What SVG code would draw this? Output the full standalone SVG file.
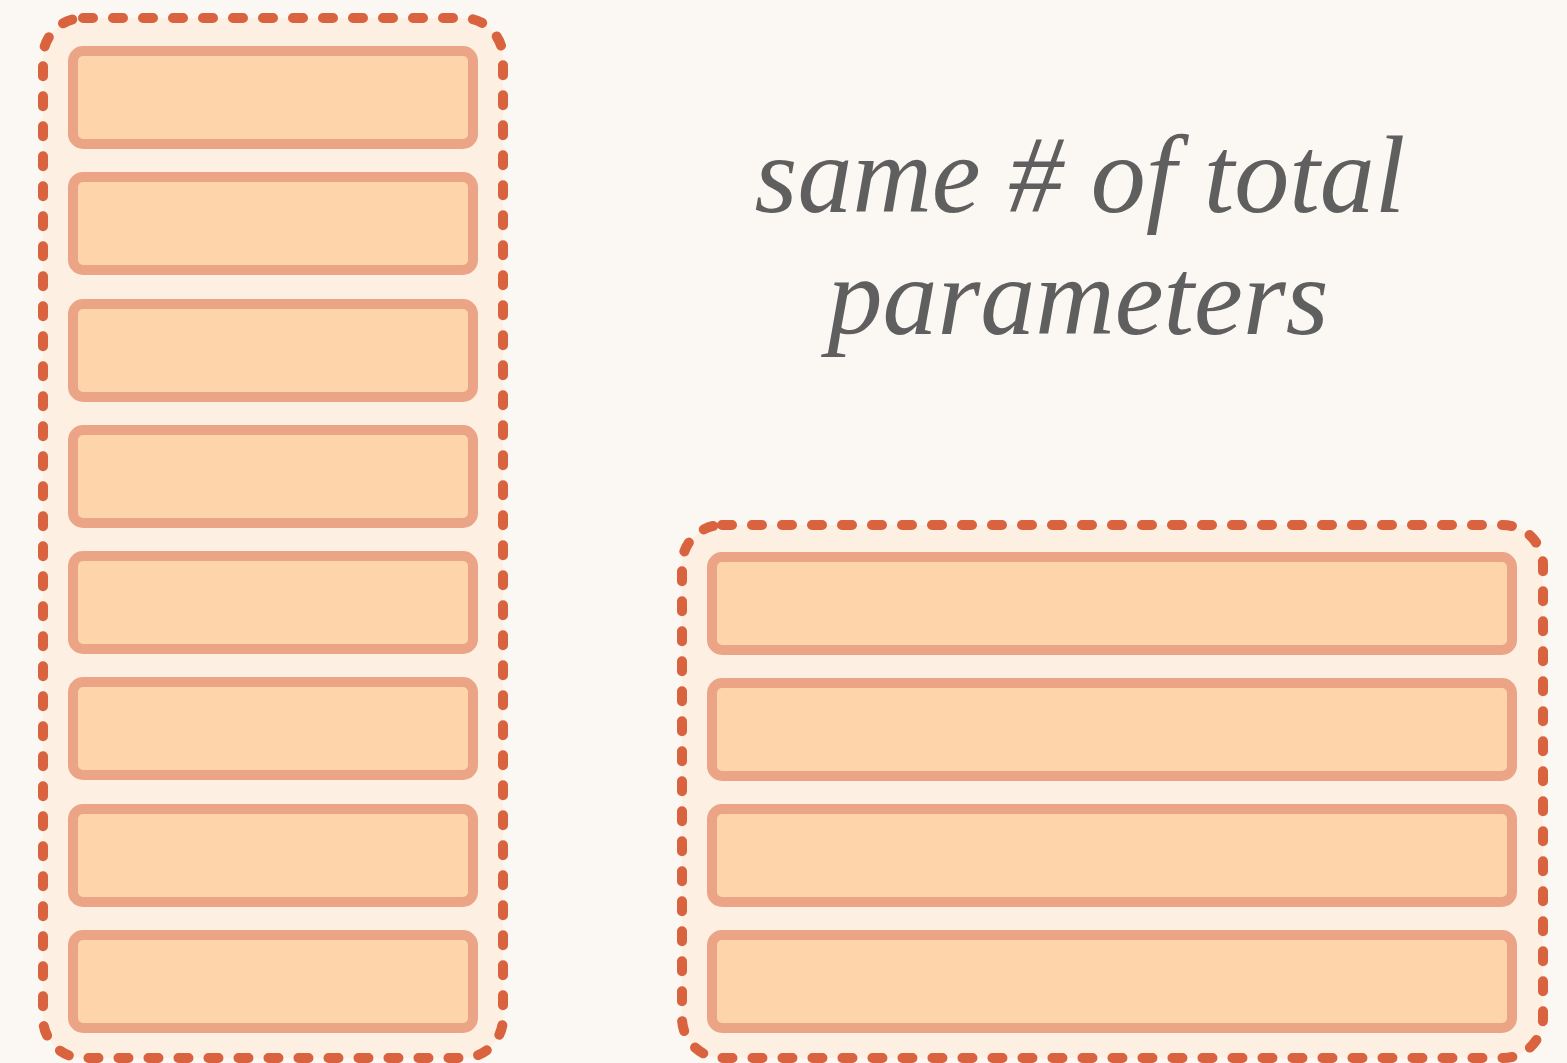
<svg xmlns="http://www.w3.org/2000/svg" width="1567" height="1063" viewBox="0 0 1567 1063">
  <style>
    .group { fill: #fdf0e2; stroke: #d9623f; stroke-width: 10; stroke-dasharray: 10 20; stroke-linecap: round; }
    .layer { fill: #fed5aa; stroke: #eba586; stroke-width: 10; }
    .label { font-family: "Liberation Serif", "DejaVu Serif", serif; font-style: italic; font-size: 110px; fill: #5f5f5f; text-anchor: middle; }
  </style>
  <rect x="0" y="0" width="1567" height="1063" fill="#fbf7f2"/>

  <!-- deep, narrow stack -->
  <g id="deep-stack">
    <rect class="group" x="43" y="18" width="460" height="1040" rx="40"/>
    <rect class="layer" x="73" y="51" width="400" height="93" rx="10"/>
    <rect class="layer" x="73" y="177" width="400" height="93" rx="10"/>
    <rect class="layer" x="73" y="304" width="400" height="93" rx="10"/>
    <rect class="layer" x="73" y="430" width="400" height="93" rx="10"/>
    <rect class="layer" x="73" y="556" width="400" height="93" rx="10"/>
    <rect class="layer" x="73" y="682" width="400" height="93" rx="10"/>
    <rect class="layer" x="73" y="809" width="400" height="93" rx="10"/>
    <rect class="layer" x="73" y="935" width="400" height="93" rx="10"/>
  </g>

  <!-- shallow, wide stack -->
  <g id="wide-stack">
    <rect class="group" x="682" y="525" width="861" height="533" rx="40"/>
    <rect class="layer" x="712" y="557" width="800" height="93" rx="10"/>
    <rect class="layer" x="712" y="683" width="800" height="93" rx="10"/>
    <rect class="layer" x="712" y="809" width="800" height="93" rx="10"/>
    <rect class="layer" x="712" y="935" width="800" height="93" rx="10"/>
  </g>

  <g id="caption">
    <text class="label" x="1080" y="212">same # of total</text>
    <text class="label" x="1078" y="334">parameters</text>
  </g>

  <g id="connectors"/>
</svg>
